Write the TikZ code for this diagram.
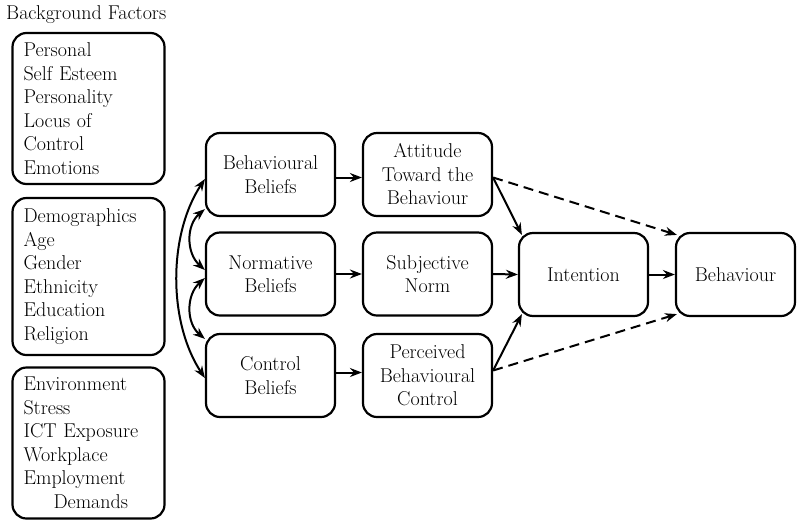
\documentclass[tikz,border=0pt]{standalone}
\usetikzlibrary{arrows.meta,calc}
\begin{document}
\begin{tikzpicture}[x=1pt,y=-1pt,
  font=\rmfamily\fontsize{20}{23.5}\selectfont,
  fbox/.style={draw, line width=2.2pt, rounded corners=14pt, inner sep=0pt},
  lbox/.style={fbox, text width=130pt, inner xsep=11pt, align=left, minimum width=152pt},
  mbox/.style={fbox, minimum width=129pt, minimum height=83pt, align=center},
  tip/.tip={Stealth[length=12pt,width=9pt,inset=4pt]},
  arr/.style={line width=2pt, -tip},
  darr/.style={arr, dash pattern=on 10pt off 6pt},
  barr/.style={line width=2pt, tip-tip}]
\useasboundingbox (0,0) rectangle (800,520);

\node[anchor=west, inner sep=0pt] (bf) at (6,15) {Background Factors};

\node[lbox, minimum height=151pt] (p1) at (88.5,108.5) {Personal\\Self Esteem\\Personality\\Locus of\\Control\\Emotions};
\node[lbox, minimum height=157pt] (p2) at (88.5,276.5) {Demographics\\Age\\Gender\\Ethnicity\\Education\\Religion};
\node[lbox, minimum height=151pt] (p3) at (88.5,443) {Environment\\Stress\\ICT Exposure\\Workplace\\Employment\\\hspace*{30pt}Demands};

\node[mbox] (bb) at (270.5,174.5) {Behavioural\\Beliefs};
\node[mbox] (nb) at (270.5,274) {Normative\\Beliefs};
\node[mbox] (cb) at (270.5,375.5) {Control\\Beliefs};

\node[mbox] (at) at (427.5,174.5) {Attitude\\Toward the\\Behaviour};
\node[mbox] (sn) at (427.5,274) {Subjective\\Norm};
\node[mbox] (pc) at (427.5,375.5) {Perceived\\Behavioural\\Control};

\node[mbox] (in) at (583.5,274.5) {Intention};
\node[mbox, minimum width=119pt] (be) at (735.5,274.5) {Behaviour};

\draw[arr] ($(bb.east)+(0,3)$) -- ($(at.west)+(0,3)$);
\draw[arr] (nb.east) -- (sn.west);
\draw[arr] ($(cb.east)+(0,-3)$) -- ($(pc.west)+(0,-3)$);

\draw[arr] ($(at.east)+(0,3)$) -- ($(in.north west)+(4,3)$);
\draw[arr] (sn.east) -- (in.west);
\draw[arr] ($(pc.east)+(0,-5)$) -- ($(in.south west)+(4,-3)$);
\draw[arr] (in.east) -- (be.west);

\draw[darr] ($(at.east)+(0,3)$) -- ($(be.north west)+(2,3)$);
\draw[darr] ($(pc.east)+(0,-5)$) -- ($(be.south west)+(2,-3)$);

\coordinate (c1) at ($(bb.west)+(0,4.5)$);
\coordinate (c2) at ($(cb.west)+(0,2.5)$);
\coordinate (c3) at ($(bb.south west)+(0,-8)$);
\coordinate (c4) at ($(nb.west)+(0,-4)$);
\coordinate (c5) at ($(nb.west)+(0,4)$);
\coordinate (c6) at ($(cb.north west)+(0,6)$);

\draw[barr] (c1) .. controls (168,235) and (168,322) .. (c2);
\draw[barr] (c3) .. controls (186,225) and (186,253) .. (c4);
\draw[barr] (c5) .. controls (186,295) and (186,323) .. (c6);
\end{tikzpicture}
\end{document}
